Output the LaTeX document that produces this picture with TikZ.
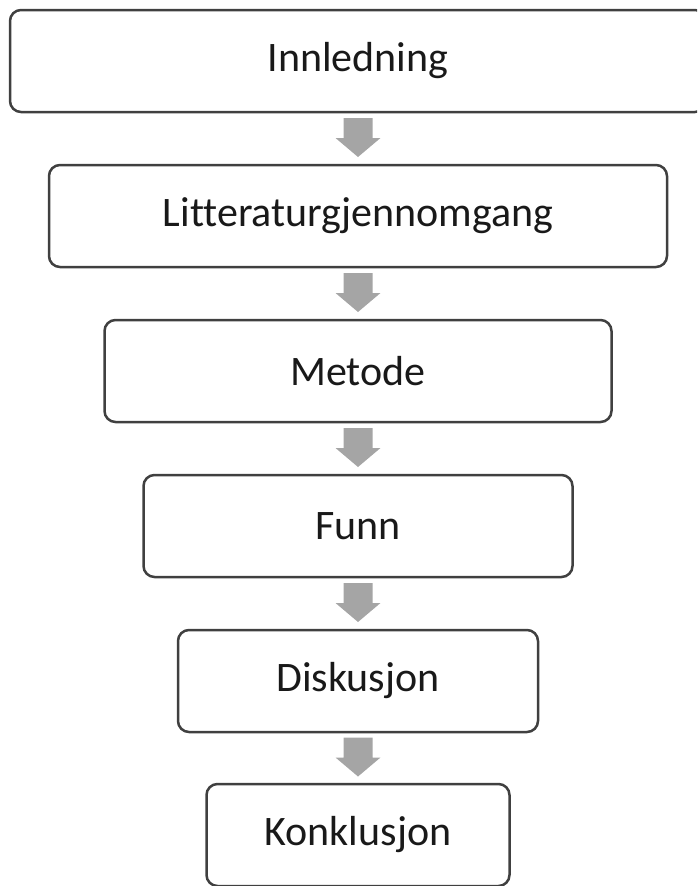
\documentclass[tikz,border=0pt]{standalone}
\usepackage{fontspec}
\setmainfont{Carlito}[Ligatures=NoCommon]
\usetikzlibrary{positioning,calc}
\definecolor{pilgraa}{HTML}{A5A5A5}
\definecolor{kant}{HTML}{404040}
\tikzset{
  boks/.style={draw=kant, line width=2.5pt, rounded corners=11pt,
    minimum height=102pt, outer sep=0pt, inner sep=0pt,
    font=\fontsize{42}{50}\selectfont, text=black!90},
}
% blokkpil mellom to bokser
\newcommand{\pil}[2]{%
  \path ($(#1.south)!.5!(#2.north)$) coordinate (pm);
  \fill[pilgraa] ([shift={(-14.5pt,20.5pt)}]pm) -- ([shift={(14.5pt,20.5pt)}]pm)
    -- ([shift={(14.5pt,0.5pt)}]pm) -- ([shift={(22.5pt,0.5pt)}]pm)
    -- ([shift={(0pt,-18.5pt)}]pm) -- ([shift={(-22.5pt,0.5pt)}]pm)
    -- ([shift={(-14.5pt,0.5pt)}]pm) -- cycle;}
\begin{document}
\begin{tikzpicture}[node distance=53pt]
    \useasboundingbox (0,0) rectangle (697pt,-886pt);
    \clip (0,0) rectangle (697pt,-886pt);
    \node[boks, minimum width=696pt] (inn) at (358pt,-61pt) {Innledning};
    \node[boks, minimum width=618pt, below=of inn] (lit) {Litteraturgjennomgang};
    \node[boks, minimum width=507pt, below=of lit] (met) {Metode};
    \node[boks, minimum width=429pt, below=of met] (funn) {Funn};
    \node[boks, minimum width=360pt, below=of funn] (disk) {Diskusjon};
    \node[boks, minimum width=303pt, below=52pt of disk] (konk) {Konklusjon};
    \pil{inn}{lit}
    \pil{lit}{met}
    \pil{met}{funn}
    \pil{funn}{disk}
    \pil{disk}{konk}
\end{tikzpicture}
\end{document}
